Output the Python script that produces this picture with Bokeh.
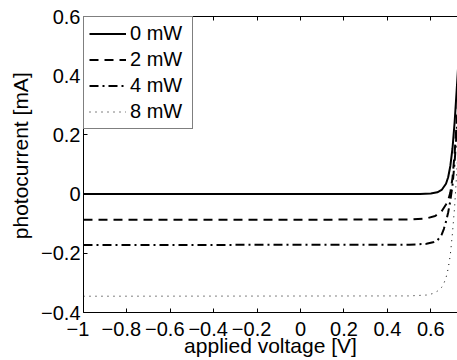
from bokeh.plotting import figure
from bokeh.models import (Range1d, FixedTicker, CustomJSTickFormatter, LinearAxis,
                          Legend, LegendItem)
from bokeh.embed import file_html
from bokeh.resources import INLINE

# ---- data ----
v0 = [-1.0, 0.55, 0.60, 0.63, 0.65, 0.67, 0.68, 0.69, 0.70, 0.71, 0.72, 0.73]
i0 = [0.0, 0.0005, 0.002, 0.006, 0.014, 0.035, 0.057, 0.095, 0.155, 0.245, 0.36, 0.48]

v2 = [-1.0, 0.50, 0.58, 0.62, 0.65, 0.67, 0.68, 0.69, 0.70, 0.71, 0.72, 0.73]
i2 = [-0.087, -0.086, -0.082, -0.074, -0.058, -0.035, -0.020, 0.005, 0.055, 0.14, 0.25, 0.38]

v4 = [-1.0, 0.50, 0.58, 0.61, 0.63, 0.65, 0.66, 0.67, 0.68, 0.69, 0.70, 0.71, 0.72, 0.73]
i4 = [-0.172, -0.171, -0.168, -0.163, -0.157, -0.137, -0.118, -0.093, -0.062, -0.022, 0.03, 0.11, 0.22, 0.35]

v8 = [-1.0, 0.50, 0.58, 0.61, 0.63, 0.65, 0.66, 0.67, 0.68, 0.69, 0.70, 0.71, 0.72, 0.73]
i8 = [-0.345, -0.344, -0.341, -0.336, -0.328, -0.315, -0.302, -0.283, -0.252, -0.205, -0.13, -0.04, 0.08, 0.22]

series_labels = ["0 mW", "2 mW", "4 mW", "8 mW"]

x_ticks = [-1.0, -0.8, -0.6, -0.4, -0.2, 0.0, 0.2, 0.4, 0.6]
x_tick_labels = ["\u22121", "\u22120.8", "\u22120.6", "\u22120.4", "\u22120.2", "0", "0.2", "0.4", "0.6"]
y_ticks = [-0.4, -0.2, 0.0, 0.2, 0.4, 0.6]
y_tick_labels = ["\u22120.4", "\u22120.2", "0", "0.2", "0.4", "0.6"]

FONT = "Liberation Sans"
NB = "\u00a0"

p = figure(width=457, height=360, output_backend="svg", toolbar_location=None,
           x_range=Range1d(-1.0, 0.723), y_range=Range1d(-0.4, 0.6),
           min_border_left=83, min_border_right=0, min_border_top=16, min_border_bottom=48,
           background_fill_color="white", border_fill_color="white")
p.outline_line_color = None
p.xgrid.visible = False
p.ygrid.visible = False

# negative x labels sit slightly left of their tick (as in the reference)
xcode = ("const i = tv.findIndex(t => Math.abs(t - tick) < 1e-9);"
         "if (i < 0) return ''; const s = tl[i];"
         "return s.startsWith('\u2212') ? s + '\u00a0\u00a0' : s;")
ycode = ("const i = tv.findIndex(t => Math.abs(t - tick) < 1e-9);"
         "return i >= 0 ? tl[i] : '';")
xfmt = CustomJSTickFormatter(args=dict(tv=x_ticks, tl=x_tick_labels), code=xcode)
yfmt = CustomJSTickFormatter(args=dict(tv=y_ticks, tl=y_tick_labels), code=ycode)

for ax, ticks, fmt in ((p.xaxis[0], x_ticks, xfmt), (p.yaxis[0], y_ticks, yfmt)):
    ax.ticker = FixedTicker(ticks=ticks)
    ax.formatter = fmt
    ax.major_tick_in = 4
    ax.major_tick_out = 0
    ax.minor_tick_line_color = None
    ax.axis_line_color = "black"
    ax.axis_line_width = 1
    ax.major_tick_line_color = "black"
    ax.major_label_text_font = FONT
    ax.major_label_text_font_size = "20px"
    ax.major_label_text_color = "black"
    ax.axis_label_text_font = FONT
    ax.axis_label_text_font_size = "21px"
    ax.axis_label_text_font_style = "normal"
    ax.axis_label_text_color = "black"

p.xaxis[0].axis_label = "applied voltage [V]"
p.xaxis[0].major_label_standoff = 5
p.xaxis[0].axis_label_standoff = -9
p.yaxis[0].axis_label = NB * 3 + "photocurrent [mA]"
p.yaxis[0].major_label_standoff = 3
p.yaxis[0].axis_label_standoff = 6

# top border with inward ticks, no labels
top = LinearAxis(ticker=FixedTicker(ticks=x_ticks), major_tick_in=4, major_tick_out=0,
                 minor_tick_line_color=None, major_label_text_font_size="1px",
                 formatter=CustomJSTickFormatter(code="return '';"),
                 major_label_standoff=0, axis_line_color="black")
p.add_layout(top, "above")

r0 = p.line(v0, i0, line_color="black", line_width=2)
r2 = p.line(v2, i2, line_color="black", line_width=2, line_dash="9 6")
r4 = p.line(v4, i4, line_color="black", line_width=2, line_dash="9 4 2 4")
r8 = p.line(v8, i8, line_color="black", line_width=1, line_dash="1 5")

legend = Legend(items=[LegendItem(label=lab, renderers=[r]) for lab, r in
                       zip(series_labels, (r0, r2, r4, r8))],
                location="top_left", margin=0, padding=5, spacing=3,
                glyph_width=37, glyph_height=21, label_height=21, label_width=57,
                label_standoff=4, label_text_font=FONT, label_text_font_size="20px",
                label_text_color="black", border_line_color="black", border_line_width=1,
                background_fill_color="white", background_fill_alpha=1)
p.add_layout(legend)

open("out.html", "w").write(file_html(p, INLINE))
